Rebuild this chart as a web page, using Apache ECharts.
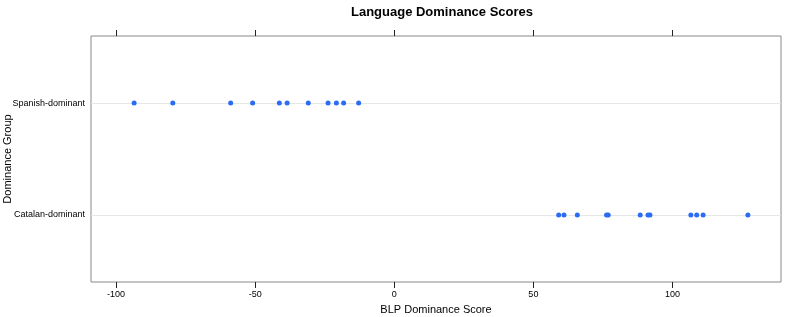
<!DOCTYPE html>
<html>
<head>
<meta charset="utf-8">
<script src="https://cdn.jsdelivr.net/npm/echarts@6/dist/echarts.min.js"></script>
<style>
  html, body { margin: 0; padding: 0; background: #fff; }
  #chart { width: 794px; height: 317px; }
</style>
</head>
<body>
<div id="chart"></div>
<script>
// groups, bottom to top
const groups = ["Catalan-dominant", "Spanish-dominant"];
const spanishScores = [-93.5, -79.6, -58.8, -50.9, -41.3, -38.5, -30.9, -23.8, -20.8, -18.2, -12.8];
const catalanScores = [59.1, 61.0, 65.8, 76.3, 76.9, 88.4, 91.2, 91.9, 106.6, 108.7, 111.0, 127.1];
const xTicks = [-100, -50, 0, 50, 100];

const points = [];
catalanScores.forEach(v => points.push([v, 1]));
spanishScores.forEach(v => points.push([v, 2]));

const chart = echarts.init(document.getElementById("chart"));
const borderColor = "#888888";
const font = "Liberation Sans, Arial, sans-serif";

chart.setOption({
  animation: false,
  title: {
    text: "Language Dominance Scores",
    left: 437, top: 1, textAlign: "center",
    textStyle: { fontFamily: font, fontSize: 13, fontWeight: "bold", color: "#000" }
  },
  graphic: [{
    type: "text", x: 8, y: 159, rotation: Math.PI / 2,
    style: {
      text: "Dominance Group", fontFamily: font, fontSize: 11, fill: "#000",
      align: "center", verticalAlign: "middle"
    }
  }],
  grid: {
    left: 91, right: 13, top: 36, bottom: 35,
    containLabel: false, outerBoundsMode: "none",
    show: true, borderColor: borderColor, borderWidth: 1
  },
  xAxis: [{
    type: "value", min: -109, max: 139, position: "bottom",
    name: "BLP Dominance Score", nameLocation: "middle", nameGap: 22,
    nameTextStyle: { fontFamily: font, fontSize: 11, color: "#000" },
    axisLine: { show: false },
    axisTick: { show: true, inside: false, length: 6, lineStyle: { color: "#222" }, customValues: xTicks },
    axisLabel: { fontFamily: font, fontSize: 9, color: "#000", margin: 8, customValues: xTicks },
    splitLine: { show: false }
  }, {
    type: "value", min: -109, max: 139, position: "top",
    axisLine: { show: false },
    axisTick: { show: true, inside: false, length: 6, lineStyle: { color: "#222" }, customValues: xTicks },
    axisLabel: { show: false },
    splitLine: { show: false }
  }],
  yAxis: {
    type: "value", min: 0.4, max: 2.6,
    axisLine: { show: false },
    axisTick: { show: false },
    axisLabel: {
      fontFamily: font, fontSize: 9, color: "#000", margin: 6,
      customValues: [1, 2],
      formatter: v => groups[Math.round(v) - 1] || ""
    },
    splitLine: { show: false }
  },
  series: [{
    type: "line",
    data: [],
    z: 1,
    markLine: {
      silent: true, symbol: "none", label: { show: false },
      lineStyle: { color: "#e6e6e6", type: "solid", width: 1 },
      data: [{ yAxis: 1 }, { yAxis: 2 }]
    }
  }, {
    type: "scatter",
    data: points,
    symbolSize: 5,
    itemStyle: { color: "#2a6df4", opacity: 1 },
    z: 5
  }]
});
</script>
</body>
</html>
